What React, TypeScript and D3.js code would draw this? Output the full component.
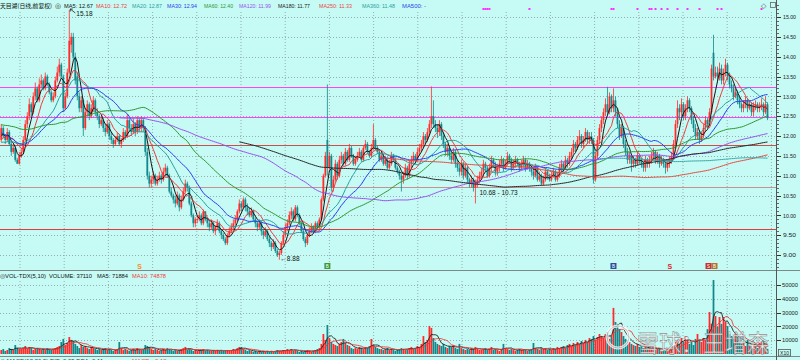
import React from "react";
import * as d3 from "d3";

// ---- closes before the visible window (only used for the long moving averages) ----
const preCloses = [
  12.4, 12.3, 12.5, 12.2, 12.3, 12.4, 12.1, 12.2, 12.3, 12.5, 12.6, 12.4, 12.3, 12.5, 12.4, 12.2, 12.3, 12.1, 12.2, 12.3,
  12.5, 12.7, 12.6, 12.8, 12.9, 12.7, 12.8, 13.0, 12.9, 12.7, 12.8, 12.6, 12.7, 12.9, 12.8, 12.6, 12.5, 12.7, 12.4, 12.3,
  12.1, 11.9, 12.0, 11.8, 11.7, 11.9, 11.6, 11.8, 11.7, 11.5, 11.6, 11.8, 11.7, 11.9, 12.0, 11.8, 11.9, 12.1, 12.0, 11.9,
];

// ---- visible daily bars ----
const closes = [
  12.2, 12.0, 11.9, 12.1, 11.8, 11.6, 11.7, 11.4, 11.3, 11.5,
  11.6, 11.9, 12.3, 12.5, 12.8, 12.6, 13.0, 13.2, 12.9, 13.3,
  13.4, 13.2, 13.5, 13.3, 13.1, 12.9, 13.0, 13.4, 13.6, 13.8,
  13.5, 12.7, 13.0, 13.6, 14.4, 14.5, 14.0, 13.4, 13.0, 12.7,
  12.9, 12.2, 12.6, 12.8, 12.5, 12.7, 12.9, 12.6, 12.5, 12.3,
  12.4, 12.2, 12.1, 12.3, 12.0, 11.9, 11.8, 11.9, 12.0, 11.8,
  11.9, 12.1, 12.0, 12.4, 12.2, 12.1, 12.3, 12.1, 12.4, 12.2,
  12.4, 12.2, 11.6, 11.0, 10.8, 10.9, 11.0, 10.8, 10.9, 11.0,
  10.9, 11.1, 11.2, 11.0, 10.6, 10.5, 10.4, 10.3, 10.5, 10.2,
  10.4, 10.6, 10.8, 10.7, 10.3, 10.0, 9.8, 9.9, 9.9, 10.0,
  9.8, 10.1, 9.9, 9.8, 9.7, 9.8, 9.6, 9.7, 9.8, 9.6,
  9.5, 9.4, 9.3, 9.5, 9.6, 9.7, 9.8, 9.9, 10.1, 10.3,
  10.2, 10.4, 10.2, 10.1, 10.0, 10.1, 9.9, 9.8, 9.7, 9.8,
  9.6, 9.5, 9.6, 9.4, 9.3, 9.2, 9.3, 9.1, 9.0, 9.05,
  9.3, 9.5, 9.7, 9.8, 10.0, 10.1, 9.9, 10.2, 10.0, 9.8,
  9.6, 9.4, 9.3, 9.5, 9.6, 9.7, 9.6, 9.8, 9.7, 9.9,
  10.4, 11.0, 11.5, 11.2, 11.5, 10.7, 10.9, 11.3, 11.0, 11.4,
  11.5, 11.3, 11.6, 11.4, 11.7, 11.5, 11.3, 11.4, 11.5, 11.6,
  11.4, 11.7, 11.8, 11.6, 11.5, 11.7, 11.9, 11.7, 11.6, 11.4,
  11.5, 11.3, 11.4, 11.2, 11.3, 11.5, 11.4, 11.2, 11.1, 11.0,
  10.9, 11.0, 11.2, 11.0, 11.3, 11.4, 11.5, 11.4, 11.6, 11.7,
  11.8, 12.0, 11.9, 12.1, 12.3, 12.5, 12.3, 12.2, 12.1, 12.3,
  12.0, 11.8, 11.6, 11.7, 11.5, 11.4, 11.6, 11.3, 11.2, 11.1,
  11.3, 11.0, 11.2, 10.9, 10.8, 10.9, 10.7, 10.8, 10.9, 11.0,
  11.1, 11.3, 11.2, 11.0, 11.2, 11.4, 11.3, 11.1, 11.2, 11.3,
  11.4, 11.2, 11.3, 11.5, 11.4, 11.2, 11.3, 11.4, 11.3, 11.2,
  11.3, 11.4, 11.2, 11.3, 11.2, 11.1, 11.0, 11.2, 10.9, 11.0,
  10.8, 10.9, 11.1, 11.0, 10.9, 11.0, 11.1, 10.9, 11.0, 11.2,
  11.3, 11.2, 11.4, 11.3, 11.5, 11.6, 11.8, 11.7, 11.9, 12.0,
  11.8, 11.9, 12.1, 11.9, 12.0, 11.9, 10.9, 11.5, 11.9, 12.2,
  12.4, 12.6, 12.8, 12.6, 13.0, 12.7, 12.9, 12.6, 12.3, 12.0,
  12.2, 11.8, 11.6, 11.4, 11.5, 11.3, 11.4, 11.3, 11.5, 11.4,
  11.3, 11.2, 11.4, 11.3, 11.4, 11.5, 11.6, 11.4, 11.5, 11.3,
  11.4, 11.3, 11.2, 11.3, 11.4, 11.5, 11.8, 12.3, 12.7, 12.6,
  12.8, 12.5, 12.7, 12.9, 12.7, 12.4, 12.2, 12.0, 12.1, 11.9,
  12.0, 12.2, 12.4, 12.3, 12.6, 13.7, 13.5, 13.6, 13.5, 13.7,
  13.4, 13.6, 13.8, 13.5, 13.3, 13.2, 13.0, 13.1, 12.9, 12.8,
  12.7, 12.8, 12.9, 12.7, 12.8, 12.6, 12.75, 12.8, 12.7, 12.75,
  12.8, 12.6, 12.8, 12.45,
];

const opens = [
  11.9, 12.2, 12.0, 11.9, 12.1, 11.8, 11.6, 11.7, 11.4, 11.3,
  11.5, 11.6, 11.9, 12.3, 12.5, 12.8, 12.6, 13.0, 13.2, 12.9,
  13.3, 13.4, 13.2, 13.5, 13.3, 13.1, 12.9, 13.0, 13.4, 13.6,
  13.8, 13.5, 12.7, 13.0, 13.6, 14.3, 14.5, 14.0, 13.5, 13.0,
  12.7, 12.9, 12.2, 12.6, 12.8, 12.5, 12.7, 12.9, 12.6, 12.5,
  12.3, 12.4, 12.2, 12.1, 12.3, 12.0, 11.9, 11.8, 11.9, 12.0,
  11.8, 11.9, 12.1, 12.0, 12.4, 12.2, 12.1, 12.3, 12.1, 12.4,
  12.2, 12.4, 12.2, 11.6, 11.0, 10.8, 10.9, 11.0, 10.8, 10.9,
  11.0, 10.9, 11.1, 11.2, 11.0, 10.6, 10.5, 10.4, 10.3, 10.5,
  10.2, 10.4, 10.6, 10.8, 10.7, 10.3, 10.0, 9.8, 9.9, 9.9,
  10.0, 9.8, 10.1, 9.9, 9.8, 9.7, 9.8, 9.6, 9.7, 9.8,
  9.6, 9.5, 9.4, 9.3, 9.5, 9.6, 9.7, 9.8, 9.9, 10.1,
  10.3, 10.2, 10.4, 10.2, 10.1, 10.0, 10.1, 9.9, 9.8, 9.7,
  9.8, 9.6, 9.5, 9.6, 9.4, 9.3, 9.2, 9.3, 9.1, 9.0,
  9.05, 9.3, 9.5, 9.7, 9.8, 10.0, 10.1, 9.9, 10.2, 10.0,
  9.8, 9.6, 9.4, 9.3, 9.5, 9.6, 9.7, 9.6, 9.8, 9.7,
  9.9, 10.4, 11.0, 11.9, 11.2, 11.5, 10.7, 10.9, 11.3, 11.0,
  11.4, 11.5, 11.3, 11.6, 11.4, 11.7, 11.5, 11.3, 11.4, 11.5,
  11.6, 11.4, 11.7, 11.8, 11.6, 11.5, 11.7, 11.9, 11.7, 11.6,
  11.4, 11.5, 11.3, 11.4, 11.2, 11.3, 11.5, 11.4, 11.2, 11.1,
  11.0, 10.9, 11.0, 11.2, 11.0, 11.3, 11.4, 11.5, 11.4, 11.6,
  11.7, 11.8, 12.0, 11.9, 12.1, 12.3, 12.5, 12.3, 12.2, 12.1,
  12.3, 12.0, 11.8, 11.6, 11.7, 11.5, 11.4, 11.6, 11.3, 11.2,
  11.1, 11.3, 11.0, 11.2, 10.9, 10.8, 10.9, 10.7, 10.8, 10.9,
  11.0, 11.1, 11.3, 11.2, 11.0, 11.2, 11.4, 11.3, 11.1, 11.2,
  11.3, 11.4, 11.2, 11.3, 11.5, 11.4, 11.2, 11.3, 11.4, 11.3,
  11.2, 11.3, 11.4, 11.2, 11.3, 11.2, 11.1, 11.0, 11.2, 10.9,
  11.0, 10.8, 10.9, 11.1, 11.0, 10.9, 11.0, 11.1, 10.9, 11.0,
  11.2, 11.3, 11.2, 11.4, 11.3, 11.5, 11.6, 11.8, 11.7, 11.9,
  12.0, 11.8, 11.9, 12.1, 11.9, 12.0, 11.9, 10.9, 11.5, 11.9,
  12.2, 12.4, 12.6, 12.8, 12.6, 13.0, 12.7, 12.9, 12.6, 12.3,
  12.0, 12.2, 11.8, 11.6, 11.4, 11.5, 11.3, 11.4, 11.3, 11.5,
  11.4, 11.3, 11.2, 11.4, 11.3, 11.4, 11.5, 11.6, 11.4, 11.5,
  11.3, 11.4, 11.3, 11.2, 11.3, 11.4, 11.5, 11.8, 12.3, 12.7,
  12.6, 12.8, 12.5, 12.7, 12.9, 12.7, 12.4, 12.2, 12.0, 12.1,
  11.9, 12.0, 12.2, 12.4, 12.3, 12.6, 14.1, 13.5, 13.6, 13.5,
  13.7, 13.4, 13.6, 13.8, 13.5, 13.3, 13.2, 13.0, 13.1, 12.9,
  12.8, 12.7, 12.8, 12.9, 12.7, 12.8, 12.6, 12.75, 12.8, 12.7,
  12.75, 12.8, 12.6, 12.8,
];

const highs = [
  12.3, 12.25, 12.05, 12.2, 12.15, 11.85, 11.8, 11.75, 11.45, 11.6,
  11.7, 12.0, 12.4, 12.6, 12.95, 12.85, 13.1, 13.35, 13.25, 13.45,
  13.55, 13.45, 13.6, 13.55, 13.35, 13.15, 13.1, 13.5, 13.75, 13.95,
  13.85, 13.55, 13.1, 13.7, 15.18, 14.6, 14.6, 14.1, 13.6, 13.1,
  13.0, 12.95, 12.7, 12.9, 12.85, 12.8, 13.0, 12.95, 12.7, 12.55,
  12.5, 12.45, 12.3, 12.4, 12.35, 12.1, 11.95, 12.0, 12.1, 12.05,
  11.95, 12.2, 12.15, 12.55, 12.45, 12.3, 12.45, 12.35, 12.5, 12.45,
  12.5, 12.45, 12.25, 11.7, 11.1, 11.0, 11.1, 11.05, 11.0, 11.1,
  11.05, 11.2, 11.3, 11.25, 11.05, 10.7, 10.55, 10.5, 10.6, 10.55,
  10.5, 10.7, 10.9, 10.85, 10.75, 10.35, 10.05, 9.95, 10.0, 10.1,
  10.05, 10.15, 10.1, 9.95, 9.85, 9.9, 9.85, 9.75, 9.9, 9.85,
  9.65, 9.55, 9.45, 9.55, 9.7, 9.8, 9.9, 10.0, 10.15, 10.4,
  10.35, 10.45, 10.45, 10.3, 10.2, 10.2, 10.15, 9.95, 9.85, 9.9,
  9.85, 9.65, 9.7, 9.65, 9.45, 9.35, 9.4, 9.35, 9.15, 9.1,
  9.35, 9.6, 9.8, 9.9, 10.1, 10.2, 10.15, 10.26, 10.25, 10.05,
  9.85, 9.65, 9.45, 9.55, 9.7, 9.8, 9.75, 9.85, 9.85, 9.95,
  10.45, 11.05, 11.6, 13.3, 11.6, 11.55, 11.0, 11.4, 11.35, 11.5,
  11.6, 11.55, 11.7, 11.65, 11.8, 11.75, 11.55, 11.5, 11.6, 11.7,
  11.65, 11.75, 11.9, 11.85, 11.65, 11.8, 12.3, 11.95, 11.75, 11.65,
  11.6, 11.55, 11.5, 11.45, 11.4, 11.6, 11.55, 11.45, 11.25, 11.15,
  11.05, 11.1, 11.3, 11.25, 11.4, 11.5, 11.6, 11.55, 11.7, 11.8,
  11.9, 12.1, 12.05, 12.2, 12.4, 13.25, 12.9, 12.4, 12.3, 12.4,
  12.35, 12.1, 11.85, 11.8, 11.75, 11.6, 11.7, 11.65, 11.4, 11.3,
  11.4, 11.35, 11.3, 11.25, 10.95, 11.0, 10.95, 10.9, 11.0, 11.1,
  11.2, 11.4, 11.35, 11.25, 11.3, 11.5, 11.45, 11.35, 11.3, 11.4,
  11.5, 11.45, 11.4, 11.6, 11.55, 11.45, 11.4, 11.5, 11.45, 11.35,
  11.4, 11.5, 11.45, 11.4, 11.35, 11.25, 11.2, 11.3, 11.25, 11.1,
  11.05, 11.0, 11.2, 11.15, 11.05, 11.1, 11.2, 11.15, 11.1, 11.3,
  11.4, 11.35, 11.5, 11.45, 11.6, 11.7, 11.9, 11.85, 12.0, 12.15,
  12.05, 12.0, 12.2, 12.15, 12.1, 12.1, 11.95, 11.6, 12.0, 12.3,
  12.5, 12.7, 12.95, 13.24, 13.1, 13.05, 13.2, 13.0, 12.7, 12.4,
  12.3, 12.25, 11.9, 11.7, 11.6, 11.55, 11.5, 11.45, 11.6, 11.55,
  11.45, 11.35, 11.5, 11.45, 11.5, 11.6, 11.7, 11.65, 11.6, 11.55,
  11.5, 11.45, 11.35, 11.4, 11.5, 11.6, 11.9, 12.4, 12.9, 12.8,
  12.95, 12.85, 12.8, 13.0, 12.95, 12.75, 12.5, 12.3, 12.2, 12.15,
  12.1, 12.3, 12.5, 12.45, 12.7, 13.8, 14.55, 13.75, 13.75, 13.85,
  13.8, 13.7, 13.95, 13.85, 13.6, 13.4, 13.3, 13.2, 13.15, 13.0,
  12.85, 12.9, 13.0, 12.95, 12.9, 12.85, 12.85, 12.9, 12.85, 12.85,
  12.95, 12.85, 13.0, 12.85,
];

const lows = [
  11.85, 11.95, 11.8, 11.85, 11.75, 11.5, 11.55, 11.35, 11.3, 11.28,
  11.45, 11.55, 11.85, 12.2, 12.4, 12.5, 12.55, 12.9, 12.85, 12.85,
  13.2, 13.15, 13.15, 13.25, 13.05, 12.85, 12.85, 12.95, 13.35, 13.5,
  13.45, 12.6, 12.65, 12.95, 13.55, 14.1, 13.9, 13.3, 12.9, 12.6,
  12.6, 12.0, 12.15, 12.5, 12.4, 12.45, 12.6, 12.5, 12.4, 12.2,
  12.25, 12.1, 12.0, 12.05, 11.9, 11.8, 11.7, 11.75, 11.85, 11.75,
  11.7, 11.85, 11.9, 11.95, 12.1, 12.0, 12.05, 12.0, 12.05, 12.1,
  12.1, 12.1, 11.5, 10.9, 10.7, 10.7, 10.8, 10.75, 10.75, 10.85,
  10.8, 10.85, 11.0, 10.95, 10.55, 10.45, 10.3, 10.2, 10.25, 10.1,
  10.15, 10.35, 10.55, 10.6, 10.25, 9.95, 9.7, 9.7, 9.8, 9.85,
  9.75, 9.75, 9.85, 9.7, 9.6, 9.65, 9.55, 9.5, 9.65, 9.55,
  9.4, 9.35, 9.25, 9.25, 9.45, 9.55, 9.65, 9.75, 9.85, 10.05,
  10.1, 10.15, 10.1, 10.0, 9.95, 9.95, 9.85, 9.7, 9.6, 9.65,
  9.5, 9.4, 9.45, 9.35, 9.2, 9.1, 9.15, 9.05, 8.95, 8.88,
  9.0, 9.25, 9.45, 9.6, 9.75, 9.9, 9.85, 9.85, 9.95, 9.75,
  9.55, 9.35, 9.2, 9.25, 9.45, 9.55, 9.55, 9.55, 9.65, 9.65,
  9.85, 10.35, 10.95, 11.0, 11.1, 10.6, 10.6, 10.85, 10.9, 10.95,
  11.3, 11.25, 11.25, 11.35, 11.35, 11.45, 11.25, 11.25, 11.35, 11.45,
  11.35, 11.35, 11.65, 11.55, 11.45, 11.45, 11.65, 11.65, 11.55, 11.35,
  11.35, 11.25, 11.25, 11.15, 11.15, 11.25, 11.35, 11.15, 11.05, 10.9,
  10.6, 10.8, 10.95, 10.9, 10.95, 11.2, 11.3, 11.3, 11.35, 11.5,
  11.6, 11.7, 11.8, 11.85, 12.0, 12.2, 12.2, 12.1, 11.95, 12.0,
  11.9, 11.7, 11.5, 11.5, 11.4, 11.3, 11.35, 11.2, 11.1, 11.0,
  11.0, 10.9, 10.95, 10.8, 10.7, 10.7, 10.6, 10.3, 10.7, 10.8,
  10.9, 11.0, 11.1, 10.95, 10.95, 11.1, 11.2, 11.0, 11.0, 11.1,
  11.2, 11.1, 11.15, 11.25, 11.3, 11.1, 11.15, 11.2, 11.25, 11.1,
  11.15, 11.2, 11.1, 11.15, 11.1, 11.0, 10.9, 10.95, 10.85, 10.85,
  10.75, 10.75, 10.85, 10.9, 10.85, 10.85, 10.95, 10.85, 10.85, 10.95,
  11.1, 11.1, 11.15, 11.2, 11.25, 11.4, 11.55, 11.6, 11.65, 11.8,
  11.7, 11.7, 11.85, 11.8, 11.8, 11.8, 10.8, 10.85, 11.4, 11.8,
  12.1, 12.3, 12.5, 12.5, 12.55, 12.6, 12.6, 12.5, 12.2, 11.9,
  11.95, 11.7, 11.5, 11.3, 11.3, 11.1, 11.2, 11.2, 11.25, 11.3,
  11.2, 11.1, 11.1, 11.2, 11.2, 11.3, 11.4, 11.3, 11.3, 11.2,
  11.25, 11.2, 11.05, 11.1, 11.2, 11.3, 11.45, 11.7, 12.2, 12.4,
  12.5, 12.4, 12.4, 12.6, 12.6, 12.3, 12.1, 11.9, 11.9, 11.8,
  11.85, 11.95, 12.1, 12.2, 12.25, 12.55, 13.4, 13.45, 13.35, 13.4,
  13.3, 13.3, 13.5, 13.4, 13.2, 13.1, 12.9, 12.95, 12.8, 12.7,
  12.6, 12.6, 12.7, 12.6, 12.65, 12.5, 12.5, 12.65, 12.6, 12.6,
  12.65, 12.5, 12.55, 12.4,
];

// volume in axis units (the axis is marked ×10)
const volumes = [
  2900, 3600, 2200, 2900, 4300, 3600, 2900, 6500, 4300, 3600,
  3600, 4300, 5800, 3600, 5100, 4300, 2900, 3600, 4300, 3600,
  2900, 3600, 2900, 4300, 3600, 2900, 3600, 4300, 5100, 5800,
  8700, 10900, 6500, 8000, 12300, 10200, 9400, 7300, 5800, 4300,
  6500, 5100, 5800, 4300, 3600, 5100, 4300, 3600, 2900, 3600,
  2900, 3600, 4300, 2900, 3600, 2900, 2200, 2900, 3600, 8700,
  4300, 2900, 3600, 2900, 2200, 2900, 3600, 2900, 4300, 3600,
  2900, 3600, 6500, 5800, 5100, 3600, 2900, 3600, 2900, 2200,
  2900, 3600, 2900, 4300, 3600, 2900, 2200, 2900, 2200, 2900,
  3600, 4300, 5100, 2900, 3600, 2900, 2200, 2900, 2200, 2900,
  2900, 3600, 2200, 2900, 2200, 2200, 2900, 2200, 2900, 2200,
  2900, 2200, 2200, 2900, 2200, 2900, 3600, 2900, 4300, 5100,
  5100, 3600, 2900, 2200, 2900, 2200, 1500, 2200, 1500, 2200,
  1500, 2200, 1500, 2200, 1500, 2200, 1500, 2200, 2900, 2200,
  2200, 2900, 2200, 3600, 2900, 3600, 2200, 2900, 2200, 1500,
  2200, 1500, 2200, 2900, 2200, 1500, 2200, 2900, 3600, 4300,
  7300, 14500, 10200, 21000, 11600, 8700, 7300, 6500, 5800, 7300,
  8700, 10900, 8000, 6500, 5800, 4300, 3600, 4300, 3600, 5100,
  4300, 3600, 5100, 4300, 5800, 10900, 6500, 5100, 4300, 3600,
  3600, 2900, 3600, 4300, 2900, 3600, 2900, 2200, 2900, 3600,
  4300, 3600, 2900, 3600, 4300, 5100, 3600, 4300, 5800, 5100,
  7300, 13000, 8700, 10200, 20300, 18900, 11600, 8700, 7300, 6500,
  5800, 7300, 5100, 4300, 5800, 5100, 6500, 4300, 3600, 7300,
  4300, 3600, 2900, 3600, 2900, 4300, 3600, 5100, 3600, 2900,
  2900, 3600, 4300, 2900, 3600, 5100, 2900, 3600, 2900, 2200,
  3600, 7300, 4300, 3600, 2900, 3600, 2900, 2200, 2900, 3600,
  2900, 3600, 2900, 2200, 2900, 3600, 8000, 4300, 3600, 2900,
  4300, 3600, 4300, 2900, 3600, 2900, 4300, 3600, 5100, 4300,
  5100, 5800, 4300, 6500, 7300, 5800, 8000, 6500, 8700, 7300,
  9400, 8000, 10200, 8700, 11600, 10900, 13000, 10200, 12300, 14500,
  13000, 11600, 14500, 15900, 10900, 13000, 33400, 23200, 21800, 18100,
  15900, 13000, 10900, 10200, 8700, 7300, 6500, 5800, 7300, 5100,
  5800, 4300, 5100, 3600, 4300, 3600, 5100, 2900, 3600, 4300,
  2900, 3600, 2200, 2900, 3600, 2900, 5800, 8700, 10200, 7300,
  11600, 8700, 13000, 10200, 7300, 8700, 6500, 10900, 14500, 10200,
  8700, 11600, 10200, 18000, 30400, 22000, 53600, 27500, 20000, 26800,
  21800, 26800, 23200, 20300, 14500, 13000, 10900, 15900, 12300, 8700,
  7300, 8700, 5800, 10200, 6500, 5100, 7300, 5800, 4300, 8000,
  9000, 10000, 5000, 3711,
];

const priceTicks = [15, 14.5, 14, 13.5, 13, 12.5, 12, 11.5, 11, 10.5, 10, 9.5, 9];
const volTicks = [10000, 20000, 30000, 40000, 50000];
const levelLines = [
  { price: 13.235, color: "#ff40ff" },
  { price: 12.48, color: "#ff40ff" },
  { price: 11.77, color: "#c8504a" },
  { price: 10.715, color: "#c89090" },
  { price: 9.656, color: "#e03a3a" },
];
const signalDots = [241, 242, 243, 244, 264, 305, 306, 318, 324, 325, 327, 330, 333, 338, 343, 349, 358, 360, 380];

const maPeriods = [5, 10, 20, 30, 60, 120, 180, 250, 360];
const maColors = ["#151515", "#f03a3a", "#2a9e9e", "#2a3cf2", "#2f962f", "#9a4ef0", "#262626", "#e8483f", "#3aa8a8"];
const legendTexts = ["MA5: 12.67", "MA10: 12.72", "MA20: 12.87", "MA30: 12.94", "MA60: 12.40", "MA120: 11.99", "MA180: 11.77", "MA250: 11.33", "MA360: 11.48", "MA500: -"];
const legendColors = ["#111", "#f03a3a", "#2a9e9e", "#2a3cf2", "#2f962f", "#9a4ef0", "#222", "#e8483f", "#2a9e9e", "#2a3cf2"];
// legend layout (x start, width)
const legendX = [64, 96, 132, 167, 204, 239, 278, 319, 362, 402];
const legendW = [29, 31, 30, 30, 29, 32, 32, 33, 33, 24];

const volLegend = ["VOL-TDX(5,10)", "VOLUME: 37110", "MA5: 71884", "MA10: 74878"];
const volLegendColors = ["#111", "#111", "#111", "#f03a3a"];
const volLegendX = [5, 49, 97, 132];
const volLegendW = [41, 43, 31, 34];

const UP = "#ff2b2b";
const DOWN = "#13878a";
const BG = "#c5fbf4";
const GRID = "#8a9a9a";
const FONT = "'Liberation Sans', Arial, sans-serif";
const CJK = "'Noto Sans CJK SC', sans-serif";

export default function App() {
  const N = closes.length;
  const P = preCloses.length;
  const x = d3.scaleBand<number>().domain(d3.range(N)).range([0.4, 0.4 + 2 * N]).paddingInner(0.12);
  const bw = x.bandwidth();
  const cx = (i: number) => (x(i) as number) + bw / 2;
  const y = d3.scaleLinear().domain([9, 15]).range([255, 17]);
  const yv = d3.scaleLinear().domain([0, 50000]).range([354, 285]);

  const all = preCloses.concat(closes);
  const maSeries = maPeriods.map((n) =>
    closes.map((_, i) => {
      const j = i + P;
      if (j < n - 1) return null;
      return d3.mean(all.slice(j - n + 1, j + 1)) as number;
    })
  );
  const volMa = [5, 10].map((n) =>
    volumes.map((_, i) => (i < n - 1 ? null : (d3.mean(volumes.slice(i - n + 1, i + 1)) as number)))
  );

  const line = d3
    .line<number | null>()
    .defined((d) => d != null)
    .x((_, i) => cx(i))
    .y((d) => y(d as number));
  const vline = d3
    .line<number | null>()
    .defined((d) => d != null)
    .x((_, i) => cx(i))
    .y((d) => yv(d as number));

  const gridX = d3.range(20, 772, 44.2);
  const minorPrice = d3.range(87, 154).map((v) => v / 10);

  return (
    <>
      <style>{"body{margin:0;} svg{display:block;}"}</style>
      <svg width={800} height={360} viewBox="0 0 800 360" style={{ background: BG }}>
        <defs>
          <clipPath id="pclip">
            <rect x={0} y={0} width={776} height={268} />
          </clipPath>
        </defs>
        <rect x={0} y={0} width={800} height={360} fill={BG} />

        {/* grid */}
        {gridX.map((gx, k) => (
          <g key={"gx" + k}>
            <line x1={gx} x2={gx} y1={12} y2={268} stroke={GRID} strokeWidth={0.8} strokeDasharray="1,2" />
            <line x1={gx} x2={gx} y1={281} y2={356} stroke={GRID} strokeWidth={0.8} strokeDasharray="1,2" />
          </g>
        ))}
        {priceTicks.map((t) => (
          <line key={"gy" + t} x1={0} x2={776} y1={Math.round(y(t)) + 0.5} y2={Math.round(y(t)) + 0.5} stroke={GRID} strokeWidth={0.8} strokeDasharray="1,2" />
        ))}
        {volTicks.map((t) => (
          <line key={"gv" + t} x1={0} x2={776} y1={Math.round(yv(t)) + 0.5} y2={Math.round(yv(t)) + 0.5} stroke={GRID} strokeWidth={0.8} strokeDasharray="1,2" />
        ))}

        {/* level lines */}
        {levelLines.map((l, k) => (
          <line key={"lv" + k} x1={0} x2={776} y1={Math.round(y(l.price)) + 0.5} y2={Math.round(y(l.price)) + 0.5} stroke={l.color} strokeWidth={1} />
        ))}

        {/* candles */}
        <g clipPath="url(#pclip)">
          {closes.map((c, i) => {
            const o = opens[i];
            const up = c >= o;
            const col = up ? UP : DOWN;
            const top = y(Math.max(o, c));
            const bot = y(Math.min(o, c));
            return (
              <g key={"c" + i}>
                <line x1={cx(i)} x2={cx(i)} y1={y(highs[i])} y2={y(lows[i])} stroke={col} strokeWidth={0.8} />
                <rect x={x(i) as number} y={top} width={bw} height={Math.max(0.8, bot - top)} fill={col} />
              </g>
            );
          })}
          {maSeries.map((s, k) => (
            <path key={"ma" + k} d={line(s) || ""} fill="none" stroke={maColors[k]} strokeWidth={1} />
          ))}
        </g>

        {/* signal dots */}
        {signalDots.map((i) => (
          <rect key={"sd" + i} x={cx(i) - 1} y={8} width={2} height={2} fill="#ff30ff" />
        ))}

        {/* annotations */}
        <path d={`M${cx(34) + 1},9 L${cx(34) + 6},13 M${cx(34) + 1},9 l2.5,0 M${cx(34) + 1},9 l0,2.5`} stroke="#222" strokeWidth={0.8} fill="none" />
        <text x={cx(34) + 7} y={16} fontSize={6.5} fontFamily={FONT} fill="#111">15.18</text>
        <text x={cx(139) + 1} y={261} fontSize={6.5} fontFamily={FONT} fill="#111">←8.88</text>
        <text x={cx(238) + 2} y={195} fontSize={6.5} fontFamily={FONT} fill="#111">10.68 - 10.73</text>

        {/* bottom markers */}
        <text x={cx(69) - 2} y={269} fontSize={7} fontFamily={FONT} fill="#ff8a1a" fontWeight="bold">S</text>
        <rect x={cx(163) - 3} y={263} width={6} height={6} fill="#3a9a3a" />
        <text x={cx(163)} y={268} fontSize={4.5} fontFamily={FONT} fill="#fff" textAnchor="middle">B</text>
        <rect x={cx(306) - 3} y={263} width={6} height={6} fill="#2d4f9a" />
        <text x={cx(306)} y={268} fontSize={4.5} fontFamily={FONT} fill="#fff" textAnchor="middle">B</text>
        <text x={cx(334) - 2} y={269} fontSize={7} fontFamily={FONT} fill="#e02020" fontWeight="bold">S</text>
        <rect x={cx(354) - 4} y={263} width={6} height={6} fill="#c83030" />
        <rect x={cx(354) + 2} y={263} width={6} height={6} fill="#b0742e" />
        <text x={cx(354) - 1} y={268} fontSize={4.5} fontFamily={FONT} fill="#fff" textAnchor="middle">S</text>
        <text x={cx(354) + 5} y={268} fontSize={4.5} fontFamily={FONT} fill="#fff" textAnchor="middle">B</text>

        {/* volume bars */}
        {volumes.map((v, i) => {
          const up = closes[i] >= opens[i];
          return (
            <rect key={"v" + i} x={x(i) as number} y={yv(v)} width={bw} height={354 - yv(v)} fill={up ? UP : DOWN} />
          );
        })}
        <path d={vline(volMa[0]) || ""} fill="none" stroke="#222" strokeWidth={0.9} />
        <path d={vline(volMa[1]) || ""} fill="none" stroke="#f03a3a" strokeWidth={0.9} />

        {/* watermark */}
        <g opacity={0.8}>
          <circle cx={618} cy={337} r={11} fill="none" stroke="#fff" strokeWidth={3} />
          <circle cx={618} cy={337} r={11} fill="none" stroke="#888" strokeWidth={0.5} />
          <text x={637} y={352} fontSize={24} fontFamily={CJK} fill="#fff" stroke="#777" strokeWidth={0.6} textLength={132} lengthAdjust="spacingAndGlyphs">雪球：王增森</text>
        </g>

        {/* panel separators */}
        <line x1={0} x2={800} y1={270.5} y2={270.5} stroke="#7a8a8a" strokeWidth={1} />
        <line x1={0} x2={800} y1={356.5} y2={356.5} stroke="#7a8a8a" strokeWidth={1} />
        <line x1={776.5} x2={776.5} y1={0} y2={360} stroke="#555" strokeWidth={1} />

        {/* price axis */}
        {minorPrice.map((t) => (
          <line key={"mt" + t} x1={777} x2={779} y1={Math.round(y(t)) + 0.5} y2={Math.round(y(t)) + 0.5} stroke="#444" strokeWidth={0.8} />
        ))}
        {priceTicks.map((t) => (
          <g key={"pt" + t}>
            <line x1={777} x2={781} y1={Math.round(y(t)) + 0.5} y2={Math.round(y(t)) + 0.5} stroke="#333" strokeWidth={1} />
            <text x={783} y={y(t) + 2.2} fontSize={6.2} fontFamily={FONT} fill="#222" textLength={13} lengthAdjust="spacingAndGlyphs">{t.toFixed(2)}</text>
          </g>
        ))}
        {volTicks.map((t) => (
          <g key={"vt" + t}>
            <line x1={777} x2={781} y1={Math.round(yv(t)) + 0.5} y2={Math.round(yv(t)) + 0.5} stroke="#333" strokeWidth={1} />
            <text x={782} y={yv(t) + 2.2} fontSize={6} fontFamily={FONT} fill="#222" textLength={16} lengthAdjust="spacingAndGlyphs">{t}</text>
          </g>
        ))}
        <rect x={778.5} y={349.5} width={12} height={6.5} fill="none" stroke="#555" strokeWidth={0.8} />
        <text x={784.5} y={355} fontSize={5} fontFamily={FONT} fill="#222" textAnchor="middle">X10</text>

        {/* top legend */}
        <text x={0} y={8} fontSize={6} fontFamily={CJK} fill="#111" textLength={52} lengthAdjust="spacingAndGlyphs">天目湖(日线,前复权)</text>
        <text x={55} y={8.2} fontSize={6.5} fontFamily={FONT} fill="#333">◎</text>
        {legendTexts.map((t, k) => (
          <text key={"lg" + k} x={legendX[k]} y={8} fontSize={6} fontFamily={FONT} fill={legendColors[k]} textLength={legendW[k]} lengthAdjust="spacingAndGlyphs">{t}</text>
        ))}
        <text x={761} y={8} fontSize={7} fontFamily={FONT} fill="#555">◇</text>
        <rect x={770.5} y={2.5} width={5} height={5} fill="none" stroke="#666" strokeWidth={0.8} />

        {/* volume legend */}
        <text x={0} y={278} fontSize={6} fontFamily={FONT} fill="#333">◎</text>
        {volLegend.map((t, k) => (
          <text key={"vl" + k} x={volLegendX[k]} y={278} fontSize={6} fontFamily={FONT} fill={volLegendColors[k]} textLength={volLegendW[k]} lengthAdjust="spacingAndGlyphs">{t}</text>
        ))}

        {/* next panel legend, cut off at the bottom edge as in the reference */}
        <text x={0} y={363} fontSize={6} fontFamily={FONT} fill="#333">◎ MACD(12,26,9) DIF: 0.05 DEA: 0.11</text>
        <text x={132} y={363} fontSize={6} fontFamily={FONT} fill="#f03a3a">MACD: -0.12</text>
      </svg>
    </>
  );
}
